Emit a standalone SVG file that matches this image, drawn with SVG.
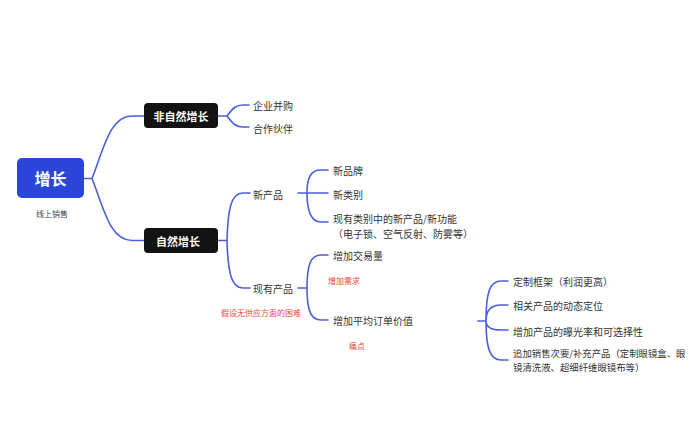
<svg xmlns="http://www.w3.org/2000/svg" width="691" height="448" viewBox="0 0 691 448">
<style>
text{font-family:"Noto Sans CJK SC","Noto Sans",sans-serif;dominant-baseline:central}
.t{font-size:10px;fill:#333}
.s{font-size:9.4px}
.r{font-size:8px;fill:#e8453c}
.b{font-size:11px;fill:#fff;font-weight:bold;text-anchor:middle}
.c{fill:none;stroke:#4a5fd9;stroke-width:1.6;stroke-linecap:round}
</style>
<rect width="691" height="448" fill="#fff"/>
<g id="connectors">
<path class="c" d="M84,178.5 L92,178.5 M92,178.5 C104,148 110,116 132,116 L144,116 M92,178.5 C104,209 110,240.5 132,240.5 L144,240.5"/>
<path class="c" d="M218,116 L227,116 C233,108 236,105 243,105 L249,105 M227,116 C233,124 236,127 243,127 L249,127"/>
<path class="c" d="M218,240.5 L227,240.5 C228,206 232,193 243,193 L250,193 M227,240.5 C228,275 232,288 243,288 L250,288"/>
<path class="c" d="M298,193 L307,193 C307,177 311,170 321,170 L328,170 M307,193 L328,193 M307,193 C307,212 311,222 321,222 L328,222"/>
<path class="c" d="M298,288 L307,288 C307,264 311,255 321,255 L328,255 M307,288 C307,311 311,320 321,320 L328,320"/>
<path class="c" d="M478,321 L486,321 C486,292 490,281 501,281 L508,281 M486,321 C486,311 490,305 501,305 L508,305 M486,321 C486,326 490,330 501,330 L508,330 M486,321 C486,348 490,360 501,360 L508,360"/>
</g>
<g id="root">
<rect x="17" y="158" width="67" height="40" rx="5" fill="#2b45d9"/>
<text x="50.5" y="178" style="font-size:16px;font-weight:bold;fill:#fff;text-anchor:middle">增长</text>
<text x="52" y="213" style="font-size:8px;fill:#444;text-anchor:middle">线上销售</text>
</g>
<g id="n-unnatural">
<rect x="144" y="103" width="74" height="25" rx="4" fill="#121212"/>
<text class="b" x="181" y="115.5">非自然增长</text>
</g>
<g id="n-natural">
<rect x="144" y="228" width="74" height="25" rx="4" fill="#121212"/>
<text class="b" x="178" y="240.5">自然增长</text>
</g>
<g id="n-ma"><text class="t" x="253" y="105">企业并购</text></g>
<g id="n-partner"><text class="t" x="253" y="128">合作伙伴</text></g>
<g id="n-newprod"><text class="t" x="253" y="194">新产品</text></g>
<g id="n-existprod"><text class="t" x="253" y="288">现有产品</text></g>
<g id="n-newbrand"><text class="t" x="333" y="170">新品牌</text></g>
<g id="n-newcat"><text class="t" x="333" y="194">新类别</text></g>
<g id="n-newfunc"><text class="t" x="333" y="218">现有类别中的新产品/新功能</text><text class="t" x="333" y="233">（电子锁、空气反射、防雾等）</text></g>
<g id="n-volume"><text class="t" x="333" y="255">增加交易量</text></g>
<g id="n-aov"><text class="t" x="333" y="320">增加平均订单价值</text></g>
<g id="n-custom"><text class="t" x="513" y="281">定制框架（利润更高）</text></g>
<g id="n-related"><text class="t" x="513" y="305">相关产品的动态定位</text></g>
<g id="n-exposure"><text class="t" x="513" y="331">增加产品的曝光率和可选择性</text></g>
<g id="n-upsell"><text class="t s" x="513" y="353">追加销售次要/补充产品（定制眼镜盒、眼</text><text class="t s" x="513" y="367">镜清洗液、超细纤维眼镜布等）</text></g>
<g id="notes">
<text class="r" x="328" y="280">增加需求</text>
<text class="r" x="221" y="312">假设无供应方面的困难</text>
<text class="r" x="349" y="345">痛点</text>
</g>
</svg>
